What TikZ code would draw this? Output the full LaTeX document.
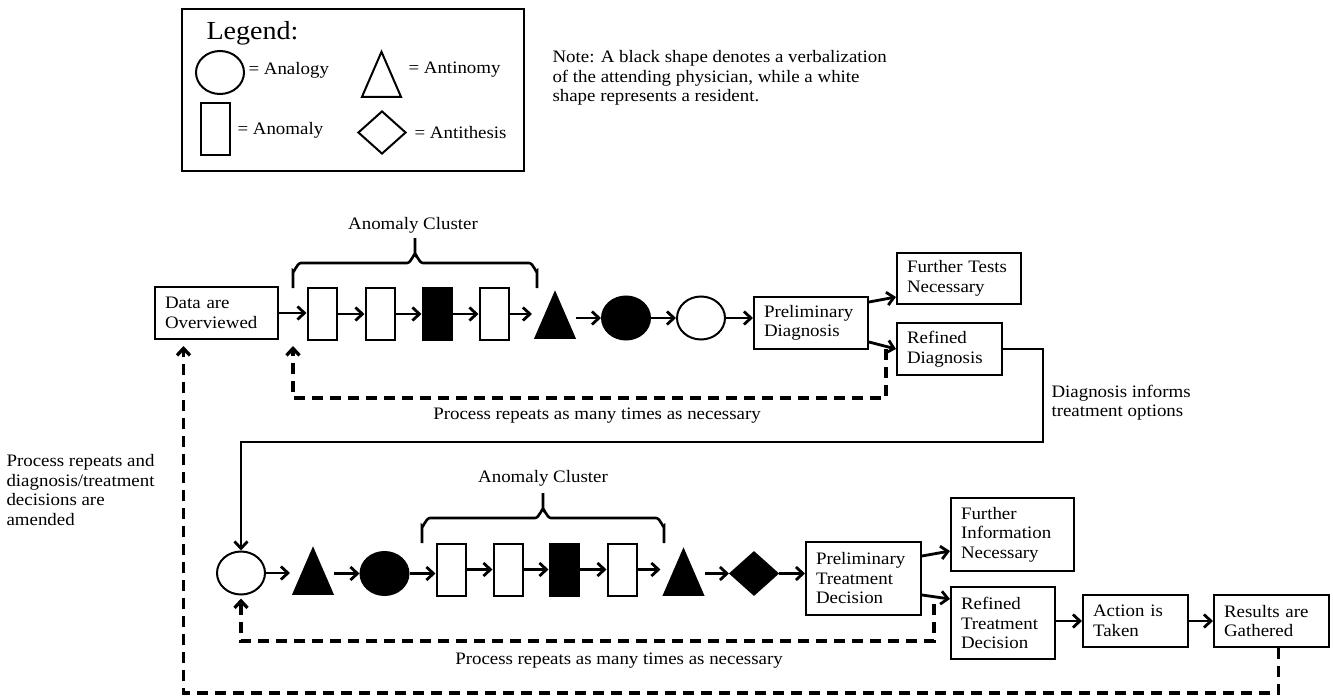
\documentclass[tikz,border=0pt]{standalone}
\usepackage{fontspec}
\setmainfont{Liberation Serif}[FakeStretch=1.08]
\usetikzlibrary{arrows.meta, shapes.geometric}

\tikzset{
  every node/.style={font=\fontsize{17.5}{19.5}\selectfont},
  stage/.style={draw, line width=2pt, align=left, inner xsep=10pt, inner ysep=0pt},
  anom/.style={draw, line width=2pt, minimum width=29pt, minimum height=52pt, inner sep=0pt},
  anlg/.style={draw, line width=2pt, ellipse, minimum width=48pt, minimum height=43pt, inner sep=0pt},
  antn/.style={draw, line width=2pt, isosceles triangle, isosceles triangle stretches, shape border rotate=90, minimum width=39pt, minimum height=45pt, inner sep=0pt},
  anth/.style={draw, line width=2pt, diamond, minimum width=48pt, minimum height=43pt, inner sep=0pt},
  attending/.style={fill=black},
  arr/.style={-{Straight Barb[length=7pt,width=13pt]}, line width=2.8pt},
  repeatline/.style={arr, line width=3.3pt, dash pattern=on 11pt off 7pt},
  clusterbrace/.style={line width=2.6pt},
}

\begin{document}
\begin{tikzpicture}[x=1pt, y=-1pt]
  \useasboundingbox (0,0) rectangle (1333,698);

  % legend
  \node[draw, line width=2pt, minimum width=342pt, minimum height=162pt] (legend) at (353,90) {};
  \node[anchor=west, font=\fontsize{26}{28}\selectfont] (legtitle) at (203,33) {Legend:};
  \node[anlg] (legA) at (220,72.5) {};
  \node[anchor=west] (legAt) at (245,70) {= Analogy};
  \node[antn] (legT) at (381.5,84) {};
  \node[anchor=west] (legTt) at (405,70) {= Antinomy};
  \node[anom] (legR) at (215.5,129) {};
  \node[anchor=west] (legRt) at (234,130) {= Anomaly};
  \node[anth] (legD) at (382,132.5) {};
  \node[anchor=west] (legDt) at (411,133) {= Antithesis};

  \node[anchor=west, align=left] (note) at (549,78)
    {Note: A black shape denotes a verbalization\\of the attending physician, while a white\\shape represents a resident.};

  % diagnosis row
  \node[stage, text width=103pt, minimum height=52pt] (data) at (216.5,313) {Data are\\Overviewed};
  \node[anom] (r1) at (322,314) {};
  \node[anom] (r2) at (380,314) {};
  \node[anom, attending] (r3) at (437,314) {};
  \node[anom] (r4) at (494,314) {};
  \node[antn, attending] (t1) at (555,325) {};
  \node[anlg, attending] (c1) at (626,318) {};
  \node[anlg] (e1) at (701,318) {};
  \node[stage, text width=94pt, minimum height=52pt] (pd) at (811,323) {Preliminary\\Diagnosis};
  \node[stage, text width=104pt, minimum height=51pt] (ft) at (959,278.5) {Further Tests\\Necessary};
  \node[stage, text width=85pt, minimum height=52pt] (rd) at (949.5,349) {Refined\\Diagnosis};

  \draw[clusterbrace] (293,288) -- (293,271) to[out=-90,in=180] (301,263) -- (407,263)
    to[out=0,in=90] (415,255) -- (415,238) (415,255) to[out=90,in=180] (423,263)
    -- (529,263) to[out=0,in=-90] (537,271) -- (537,288);
  \node (clusA) at (413,225) {Anomaly Cluster};

  \draw[arr] (data.east) -- (data.east -| r1.west);
  \draw[arr] (r1.east) -- (r2.west);
  \draw[arr] (r2.east) -- (r3.west);
  \draw[arr] (r3.east) -- (r4.west);
  \draw[arr, shorten >=2pt] (r4.east) -- (r4.east -| t1.left corner);
  \draw[arr] (t1.right corner |- c1.west) -- (c1.west);
  \draw[arr] (c1.east) -- (e1.west);
  \draw[arr] (e1.east) -- (e1.east -| pd.west);
  \draw[arr] ([yshift=-6pt]pd.north east) -- ([yshift=8pt]ft.south west);
  \draw[arr] ([yshift=8pt]pd.south east) -- (rd.west);

  \coordinate (backA) at (293,346);
  \draw[repeatline] ([xshift=-10pt]rd.west) -- ++(0,49) -| (backA);
  \node (repA) at (597,416) {Process repeats as many times as necessary};

  % treatment row
  \node[anlg] (e2) at (241,573) {};
  \node[antn, attending] (t2) at (313,581) {};
  \node[anlg, attending] (c2) at (384.5,573.5) {};
  \node[anom] (s1) at (451,569.5) {};
  \node[anom] (s2) at (508,569.5) {};
  \node[anom, attending] (s3) at (564,569.5) {};
  \node[anom] (s4) at (622,569.5) {};
  \node[antn, attending] (t3) at (683.5,582) {};
  \node[anth, attending] (d1) at (754,573.5) {};
  \node[stage, text width=95pt, minimum height=73pt] (ptd) at (863.5,578.5) {Preliminary\\Treatment\\Decision};
  \node[stage, text width=103pt, minimum height=73pt] (fin) at (1012.5,534.5) {Further\\Information\\Necessary};
  \node[stage, text width=84pt, minimum height=72pt] (rtd) at (1003,623) {Refined\\Treatment\\Decision};
  \node[stage, text width=85pt, minimum height=52pt] (ait) at (1135.5,621) {Action is\\Taken};
  \node[stage, text width=95pt, minimum height=52pt] (rg) at (1271.5,621) {Results are\\Gathered};

  \draw[arr] (rd.east) -- ++(40,0) -- ++(0,93) -| (e2.north);
  \node[anchor=west, align=left] (informs) at (1048,402.5) {Diagnosis informs\\treatment options};

  \draw[clusterbrace] (422,543) -- (422,526) to[out=-90,in=180] (430,518) -- (535,518)
    to[out=0,in=90] (543,510) -- (543,493) (543,510) to[out=90,in=180] (551,518)
    -- (656,518) to[out=0,in=-90] (664,526) -- (664,543);
  \node (clusB) at (543,478) {Anomaly Cluster};

  \draw[arr, shorten >=2pt] (e2.east) -- (e2.east -| t2.left corner);
  \draw[arr] (t2.right corner |- c2.west) -- (c2.west);
  \draw[arr] (c2.east) -- (c2.east -| s1.west);
  \draw[arr] (s1.east) -- (s2.west);
  \draw[arr] (s2.east) -- (s3.west);
  \draw[arr] (s3.east) -- (s4.west);
  \draw[arr, shorten >=2pt] (s4.east) -- (s4.east -| t3.left corner);
  \draw[arr] (t3.right corner |- d1.west) -- (d1.west);
  \draw[arr] (d1.east) -- (d1.east -| ptd.west);
  \draw[arr] ([yshift=-15pt]ptd.north east) -- ([yshift=21pt]fin.south west);
  \draw[arr] ([yshift=21pt]ptd.south east) -- ([yshift=-13pt]rtd.north west);
  \draw[arr] (rtd.east |- ait.west) -- (ait.west);
  \draw[arr] (ait.east) -- (rg.west);

  \draw[repeatline] ([xshift=-16pt,yshift=-18pt]rtd.north west) -- ++(0,37) -| ([yshift=-3pt]e2.south);
  \node (repB) at (619,661) {Process repeats as many times as necessary};

  % outer loop
  \draw[repeatline] ([xshift=7pt]rg.south) -- ++(0,45) -| ([xshift=-33pt,yshift=-6pt]data.south);
  \node[anchor=west, align=left] (amend) at (3,490)
    {Process repeats and\\diagnosis/treatment\\decisions are\\amended};
\end{tikzpicture}
\end{document}
